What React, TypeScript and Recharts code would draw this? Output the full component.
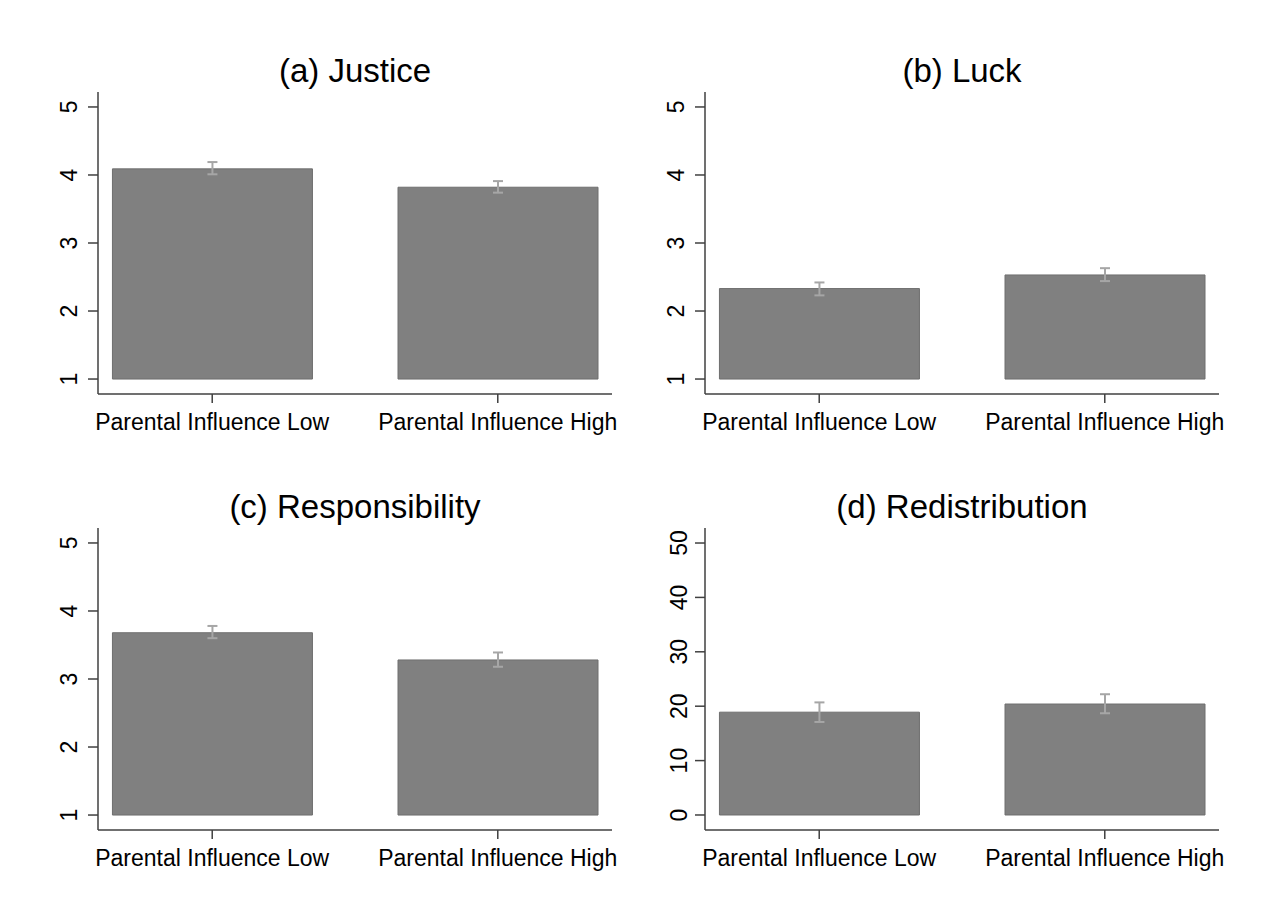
import React from 'react'
import { BarChart, Bar, XAxis, YAxis, ErrorBar } from 'recharts'

const categories = ['Parental Influence Low', 'Parental Influence High']
const xPos = [1, 2]

const justiceMean = [4.09, 3.82]
const justiceLo = [4.01, 3.74]
const justiceHi = [4.19, 3.91]

const luckMean = [2.33, 2.53]
const luckLo = [2.23, 2.44]
const luckHi = [2.42, 2.63]

const respMean = [3.68, 3.28]
const respLo = [3.6, 3.18]
const respHi = [3.78, 3.39]

const redistMean = [18.9, 20.4]
const redistLo = [17.1, 18.7]
const redistHi = [20.7, 22.2]

const likertTicks = [1, 2, 3, 4, 5]
const redistTicks = [0, 10, 20, 30, 40, 50]

const FONT = '"Liberation Sans", Arial, sans-serif'
const AXIS = '#404040'

function build(mean: number[], lo: number[], hi: number[], base: number) {
  return categories.map((c, i) => ({
    name: c,
    x: xPos[i],
    range: [base, mean[i]],
    err: [mean[i] - lo[i], hi[i] - mean[i]],
  }))
}

function YTick(props: any) {
  const { x, y, payload } = props
  return (
    <text x={x} y={y} transform={`rotate(-90, ${x}, ${y})`} textAnchor='middle'
      fontSize={23} fontFamily={FONT} fill='#000'>
      {payload.value}
    </text>
  )
}

function Panel({ title, left, top, data, domain, ticks, tickGap }: any) {
  return (
    <div style={{ position:'absolute', left, top, width:630, height:450 }}>
      <BarChart width={630} height={450} data={data}
        margin={{ top:92, left:28, right:18, bottom:6 }}>
        <XAxis dataKey='x' type='number' domain={[0.6, 2.4]} ticks={xPos}
          allowDataOverflow
          tickFormatter={(v: number) => categories[xPos.indexOf(v)] ?? ''}
          height={50} tickSize={9} tickMargin={11}
          axisLine={{ stroke:AXIS, strokeWidth:1.5 }}
          tickLine={{ stroke:AXIS, strokeWidth:1.5 }}
          tick={{ fontSize:23, fontFamily:FONT, fill:'#000' }} />
        <YAxis type='number' domain={domain} ticks={ticks} allowDataOverflow
          width={70} tickSize={10} tickMargin={tickGap}
          axisLine={{ stroke:AXIS, strokeWidth:1.5 }}
          tickLine={{ stroke:AXIS, strokeWidth:1.5 }}
          tick={<YTick />} />
        <Bar dataKey='range' fill='#808080' stroke='#6e6e6e' strokeWidth={1}
          barSize={200} isAnimationActive={false}>
          <ErrorBar dataKey='err' width={5} stroke='#a6a6a6' strokeWidth={2}
            direction='y' />
        </Bar>
      </BarChart>
      <svg width={630} height={100} style={{ position:'absolute', left:0, top:0 }}>
        <text x={355} y={82} textAnchor='middle' fontSize={33} fontFamily={FONT}
          fill='#000'>{title}</text>
      </svg>
    </div>
  )
}

export default function App() {
  return (
    <div style={{ position:'absolute', left:0, top:0, width:1263, height:918,
      background:'#fff' }}>
      <Panel title='(a) Justice' left={0} top={0}
        data={build(justiceMean, justiceLo, justiceHi, 1)}
        domain={[0.78, 5.22]} ticks={likertTicks} tickGap={11} />
      <Panel title='(b) Luck' left={607} top={0}
        data={build(luckMean, luckLo, luckHi, 1)}
        domain={[0.78, 5.22]} ticks={likertTicks} tickGap={11} />
      <Panel title='(c) Responsibility' left={0} top={436}
        data={build(respMean, respLo, respHi, 1)}
        domain={[0.78, 5.22]} ticks={likertTicks} tickGap={11} />
      <Panel title='(d) Redistribution' left={607} top={436}
        data={build(redistMean, redistLo, redistHi, 0)}
        domain={[-2.76, 52.76]} ticks={redistTicks} tickGap={8} />
    </div>
  )
}
